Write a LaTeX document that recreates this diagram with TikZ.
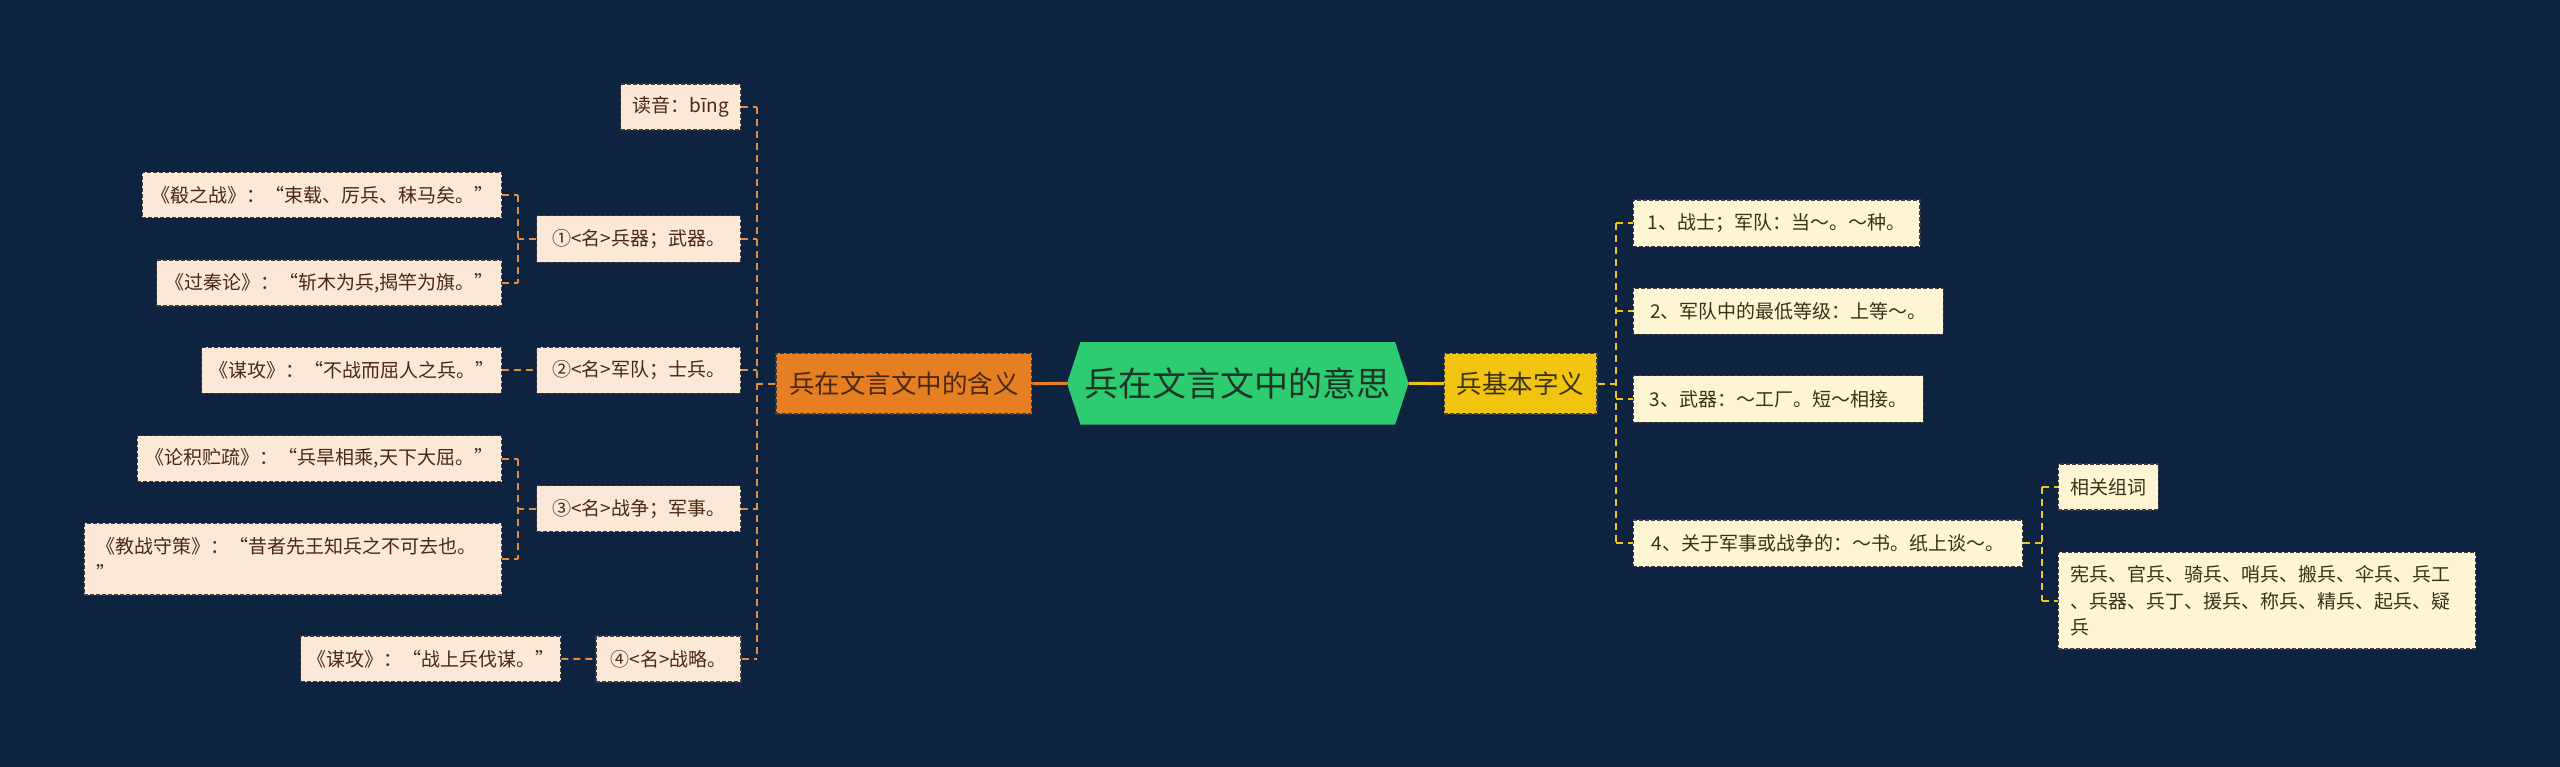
\documentclass[tikz,border=0pt]{standalone}
\usepackage{fontspec}
\setmainfont{Noto Sans CJK SC}
\pgfdeclarelayer{back}
\pgfdeclarelayer{mid}
\pgfsetlayers{back,mid,main}
\definecolor{bgc}{HTML}{0E2340}
\definecolor{leafLfill}{HTML}{FCE8D6}
\definecolor{leafRfill}{HTML}{FEF5D4}
\definecolor{leafLtext}{HTML}{4A2812}
\definecolor{leafRtext}{HTML}{3A3218}
\definecolor{bord}{HTML}{3C3C3C}
\definecolor{orangeC}{HTML}{E67E22}
\definecolor{yellowC}{HTML}{F1C40F}
\definecolor{greenC}{HTML}{2ECC71}
\definecolor{hextext}{HTML}{1C3526}
\definecolor{conL}{HTML}{E58E3B}
\definecolor{conR}{HTML}{F0C419}
\tikzset{
  boxbase/.style={draw=bord, dash pattern=on 4pt off 2pt, line width=1.2pt, inner sep=0pt, align=center},
  leafL/.style={boxbase, fill=leafLfill, text=leafLtext, font=\fontsize{19}{26.7}\selectfont},
  leafR/.style={boxbase, fill=leafRfill, text=leafRtext, font=\fontsize{19}{26.7}\selectfont},
  mainL/.style={boxbase, fill=orangeC, text=leafLtext, font=\fontsize{25.5}{30}\selectfont},
  mainR/.style={boxbase, fill=yellowC, text=leafRtext, font=\fontsize{25.5}{30}\selectfont},
  hexnode/.style={inner sep=0pt, text=hextext, font=\fontsize{34}{40}\selectfont},
  linkL/.style={draw=conL, line width=2pt, dash pattern=on 7pt off 5pt},
  linkR/.style={draw=conR, line width=2pt, dash pattern=on 7pt off 5pt},
  rootL/.style={draw=orangeC, line width=3pt},
  rootR/.style={draw=yellowC, line width=3pt},
}
\begin{document}
\begin{tikzpicture}[x=1pt,y=-1pt]
\begin{pgfonlayer}{back}
\fill[bgc] (0,0) rectangle (2560,767);
\end{pgfonlayer}
\useasboundingbox (0,0) rectangle (2560,767);

% centre
\node[hexnode, minimum width=314.3pt, minimum height=82pt] (hex) at (1237.8,383.3) {兵在文言文中的意思};
\coordinate (hL) at ([xshift=-13.4pt]hex.west);
\coordinate (hR) at ([xshift=13.4pt]hex.east);
\begin{pgfonlayer}{mid}
\fill[greenC] (hex.north west) -- (hex.north east) -- (hR) -- (hex.south east) -- (hex.south west) -- (hL) -- cycle;
\end{pgfonlayer}

% main branches
\node[mainL, minimum width=255.7pt, minimum height=60.7pt] (oL) at (903.8,383.7) {兵在文言文中的含义};
\node[mainR, minimum width=152.7pt, minimum height=60.7pt] (yR) at (1520.7,383.7) {兵基本字义};

% left children
\node[leafL, minimum width=120pt, minimum height=46pt] (dy) at (680.7,107) {读音：bīng};
\node[leafL, minimum width=204pt, minimum height=46.6pt] (n1) at (638.7,239) {①<名>兵器；武器。};
\node[leafL, minimum width=204pt, minimum height=46pt] (n2) at (638.7,370.3) {②<名>军队；士兵。};
\node[leafL, minimum width=204pt, minimum height=46pt] (n3) at (638.7,508.7) {③<名>战争；军事。};
\node[leafL, minimum width=145pt, minimum height=46pt] (n4) at (668.5,659) {④<名>战略。};

% left grandchildren
\node[leafL, minimum width=359.4pt, minimum height=45.4pt] (q11) at (322,195) {《殽之战》：“束载、厉兵、秣马矣。”};
\node[leafL, minimum width=345pt, minimum height=46pt] (q12) at (329.2,283) {《过秦论》：“斩木为兵,揭竿为旗。”};
\node[leafL, minimum width=300pt, minimum height=46pt] (q21) at (351.7,370.3) {《谋攻》：“不战而屈人之兵。”};
\node[leafL, minimum width=364.4pt, minimum height=46pt] (q31) at (319.5,458.7) {《论积贮疏》：“兵旱相乘,天下大屈。”};
\node[leafL, minimum width=417.4pt, minimum height=71.7pt, text width=392.6pt, align=left] (q32) at (293,559.2) {《教战守策》：“昔者先王知兵之不可去也。\\”};
\node[leafL, minimum width=260pt, minimum height=45.7pt] (q41) at (430.7,658.9) {《谋攻》：“战上兵伐谋。”};

% right children
\node[leafR, minimum width=286.7pt, minimum height=46.7pt] (r1) at (1776.7,223.3) {1、战士；军队：当～。～种。};
\node[leafR, minimum width=310pt, minimum height=46pt] (r2) at (1788.3,311.3) {2、军队中的最低等级：上等～。};
\node[leafR, minimum width=290pt, minimum height=46.6pt] (r3) at (1778.3,399) {3、武器：～工厂。短～相接。};
\node[leafR, minimum width=389.4pt, minimum height=46.7pt] (r4) at (1828,543.3) {4、关于军事或战争的：～书。纸上谈～。};
\node[leafR, minimum width=100pt, minimum height=46pt] (s1) at (2108.3,487) {相关组词};
\node[leafR, minimum width=417.4pt, minimum height=96.7pt, text width=392.6pt, align=left] (s2) at (2267,600.7) {宪兵、官兵、骑兵、哨兵、搬兵、伞兵、兵工\\、兵器、兵丁、援兵、称兵、精兵、起兵、疑\\兵};

% root connectors
\draw[rootL] (oL.east) -- (hL);
\draw[rootR] (hR) -- (yR.west);

% left trunk
\coordinate (tL) at ([xshift=-18.3pt]oL.west);
\draw[linkL] (oL.west) -- (tL);
\draw[linkL] (tL |- dy.east) -- (tL |- n4.east);
\foreach \n in {dy,n1,n2,n3,n4} { \draw[linkL] (\n.east) -- (tL |- \n.east); }

% left brackets
\coordinate (b1) at ([xshift=-18.3pt]n1.west);
\draw[linkL] (n1.west) -- (b1);
\draw[linkL] (b1 |- q11.east) -- (b1 |- q12.east);
\draw[linkL] (q11.east) -- (b1 |- q11.east);
\draw[linkL] (q12.east) -- (b1 |- q12.east);
\draw[linkL] (q21.east) -- (n2.west);
\coordinate (b3) at ([xshift=-18.3pt]n3.west);
\draw[linkL] (n3.west) -- (b3);
\draw[linkL] (b3 |- q31.east) -- (b3 |- q32.east);
\draw[linkL] (q31.east) -- (b3 |- q31.east);
\draw[linkL] (q32.east) -- (b3 |- q32.east);
\draw[linkL] (q41.east) -- (n4.west);

% right trunk
\coordinate (tR) at ([xshift=18.3pt]yR.east);
\draw[linkR] (yR.east) -- (tR);
\draw[linkR] (tR |- r1.west) -- (tR |- r4.west);
\foreach \n in {r1,r2,r3,r4} { \draw[linkR] (tR |- \n.west) -- (\n.west); }

% right bracket
\coordinate (b4) at ([xshift=18.3pt]r4.east);
\draw[linkR] (r4.east) -- (b4);
\draw[linkR] (b4 |- s1.west) -- (b4 |- s2.west);
\draw[linkR] (b4 |- s1.west) -- (s1.west);
\draw[linkR] (b4 |- s2.west) -- (s2.west);
\end{tikzpicture}
\end{document}
